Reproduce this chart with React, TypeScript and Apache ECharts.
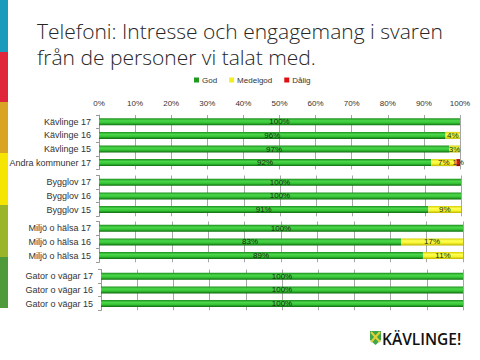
import React, { useEffect, useRef } from 'react';
import * as echarts from 'echarts';

const seriesNames = ['God', 'Medelgod', 'Dålig'];
const categoryGroups: string[][] = [
  ['Kävlinge 17', 'Kävlinge 16', 'Kävlinge 15', 'Andra kommuner 17'],
  ['Bygglov 17', 'Bygglov 16', 'Bygglov 15'],
  ['Miljö o hälsa 17', 'Miljö o hälsa 16', 'Miljö o hälsa 15'],
  ['Gator o vägar 17', 'Gator o vägar 16', 'Gator o vägar 15'],
];
const godValues: number[][] = [[100, 96, 97, 92], [100, 100, 91], [100, 83, 89], [100, 100, 100]];
const medelgodValues: number[][] = [[0, 4, 3, 7], [0, 0, 9], [0, 17, 11], [0, 0, 0]];
const daligValues: number[][] = [[0, 0, 0, 1], [0, 0, 0], [0, 0, 0], [0, 0, 0]];
const xMin = 0;
const xMax = 100;
const xInterval = 10;

const gridTops = [115, 175.5, 221.5, 269.5];
const gridLefts = [99, 99, 99, 101];
const gridRights = [20, 19, 17, 17];
const rowHeight = 13.6;

const grad = (stops: [number, string][]) =>
  new echarts.graphic.LinearGradient(0, 0, 0, 1, stops.map(([offset, color]) => ({ offset, color })));

const fills = [
  grad([[0, '#1f8f1f'], [0.35, '#4ad84a'], [0.65, '#36c436'], [1, '#0e6a0e']]),
  grad([[0, '#d4d000'], [0.35, '#ffff55'], [0.65, '#f8f430'], [1, '#bdb500']]),
  grad([[0, '#b00000'], [0.35, '#ff2a2a'], [0.65, '#e81010'], [1, '#8a0000']]),
];
const legendColors = ['#1f9a1f', '#f2ee20', '#e01010'];

const stripColors = ['#1b9bbb', '#e0263a', '#d9a423', '#f5e500', '#9bb52b', '#4f9a3b'];
const stripBounds = [0, 52, 102, 153, 205, 257, 308];

export default function App() {
  const ref = useRef<HTMLDivElement>(null);
  useEffect(() => {
    if (!ref.current) return;
    const chart = echarts.init(ref.current, undefined, { renderer: 'svg' });
    const grids: any[] = [];
    const xAxes: any[] = [];
    const yAxes: any[] = [];
    const series: any[] = [];
    categoryGroups.forEach((cats, gi) => {
      grids.push({
        left: gridLefts[gi],
        right: gridRights[gi],
        top: gridTops[gi],
        height: cats.length * rowHeight,
        containLabel: false,
      });
      xAxes.push({
        type: 'value',
        gridIndex: gi,
        position: 'top',
        min: xMin,
        max: xMax,
        interval: xInterval,
        axisLine: { show: false },
        axisTick: { show: false },
        axisLabel: {
          show: gi === 0,
          formatter: '{value}%',
          fontSize: 8,
          color: '#333',
          fontFamily: 'Liberation Sans',
          margin: 8,
        },
        splitLine: { show: true, lineStyle: { color: '#a6a6a6', width: 1 } },
      });
      yAxes.push({
        type: 'category',
        gridIndex: gi,
        data: cats,
        inverse: true,
        axisLine: { show: true, lineStyle: { color: '#9a9a9a' } },
        axisTick: { show: true, length: 3, lineStyle: { color: '#9a9a9a' } },
        axisLabel: { fontSize: 9, color: '#333', fontFamily: 'Liberation Sans', margin: 8 },
      });
      const vals = [godValues[gi], medelgodValues[gi], daligValues[gi]];
      seriesNames.forEach((name, si) => {
        series.push({
          type: 'bar',
          name,
          xAxisIndex: gi,
          yAxisIndex: gi,
          stack: 'g' + gi,
          data: vals[si],
          barWidth: 7,
          itemStyle: { color: fills[si] },
          label: {
            show: true,
            position: 'inside',
            fontSize: 8,
            color: '#1a2a10',
            fontFamily: 'Liberation Sans',
            formatter: (p: any) => (p.value > 0 ? p.value + '%' : ''),
          },
        });
      });
    });

    const graphics: any[] = stripColors.map((c, i) => ({
      type: 'rect',
      shape: { x: 0, y: stripBounds[i], width: 8, height: stripBounds[i + 1] - stripBounds[i] },
      style: { fill: c },
      silent: true,
    }));
    graphics.push(
      {
        type: 'text',
        style: {
          text: 'Telefoni: Intresse och engagemang i svaren',
          x: 37,
          y: 30.5,
          verticalAlign: 'middle',
          font: '300 21px "Open Sans"',
          fill: '#262626',
        },
      },
      {
        type: 'text',
        style: {
          text: 'från de personer vi talat med.',
          x: 37,
          y: 56.5,
          verticalAlign: 'middle',
          font: '300 21px "Open Sans"',
          fill: '#262626',
        },
      },
      {
        type: 'polygon',
        shape: { points: [[370, 331], [381, 331], [381, 340], [375.5, 345], [370, 340]] },
        style: { fill: '#3fa64a' },
      },
      {
        type: 'line',
        shape: { x1: 371, y1: 332, x2: 380, y2: 342 },
        style: { stroke: '#e2d23a', lineWidth: 2 },
      },
      {
        type: 'line',
        shape: { x1: 380, y1: 332, x2: 371, y2: 342 },
        style: { stroke: '#e2d23a', lineWidth: 2 },
      },
      {
        type: 'text',
        style: {
          text: 'KÄVLINGE!',
          x: 382,
          y: 338.5,
          verticalAlign: 'middle',
          font: '600 15.5px "Open Sans"',
          fill: '#111',
        },
      }
    );

    chart.setOption({
      animation: false,
      backgroundColor: '#fff',
      legend: {
        top: 71,
        left: 189,
        itemWidth: 5,
        itemHeight: 5,
        itemGap: 12,
        icon: 'rect',
        textStyle: { fontSize: 8, color: '#333', fontFamily: 'Liberation Sans', padding: [0, 0, 0, -2] },
        data: seriesNames.map((n, i) => ({ name: n, itemStyle: { color: legendColors[i] } })),
        selectedMode: false,
      },
      grid: grids,
      xAxis: xAxes,
      yAxis: yAxes,
      series,
      graphic: graphics,
    });
    return () => chart.dispose();
  }, []);
  return <div ref={ref} style={{ position: 'fixed', left: 0, top: 0, width: 480, height: 360 }} />;
}
